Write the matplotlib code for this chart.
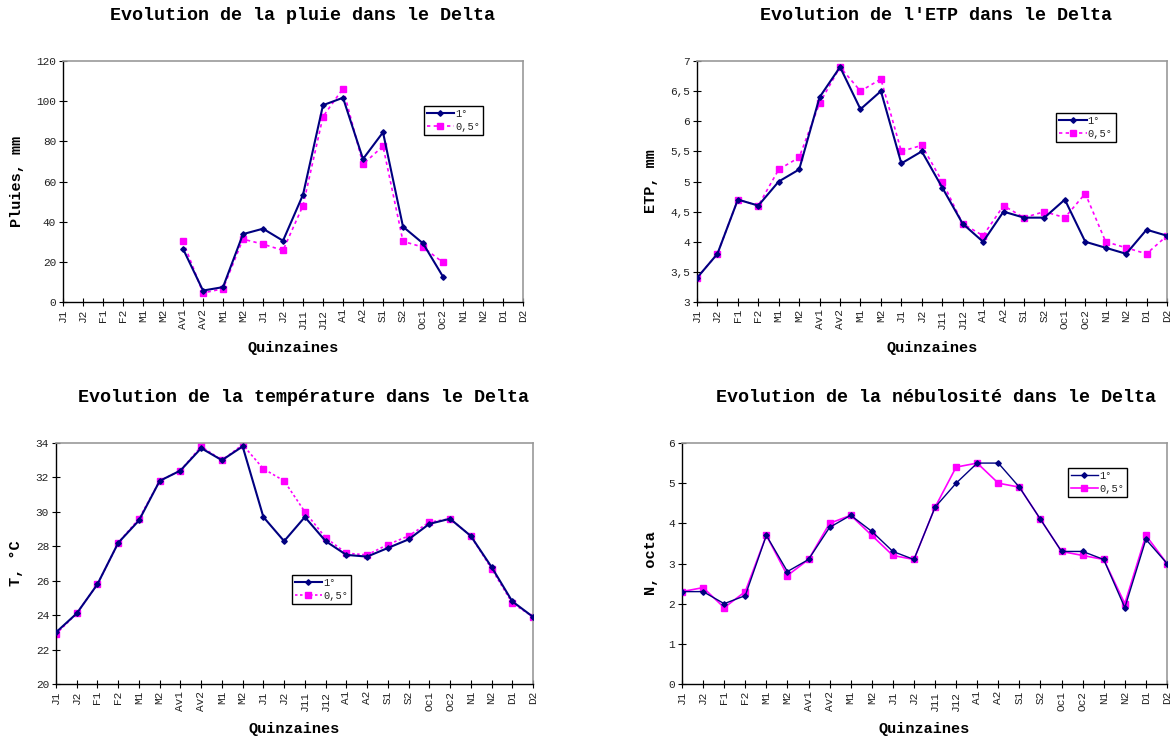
import matplotlib
matplotlib.use("Agg")
import matplotlib.pyplot as plt
import numpy as np

months = ["J1", "J2", "F1", "F2", "M1", "M2", "Av1", "Av2", "M1", "M2", "J1", "J2",
          "J11", "J12", "A1", "A2", "S1", "S2", "Oc1", "Oc2", "N1", "N2", "D1", "D2"]

nan = np.nan
pluie_1 = [nan, nan, nan, nan, nan, nan, 26.5, 5.7, 7.4, 33.8, 36.5, 30.5,
           53.4, 98.0, 101.7, 71.2, 84.5, 37.5, 29.2, 12.6, nan, nan, nan, nan]
pluie_05 = [nan, nan, nan, nan, nan, nan, 30.2, 4.5, 6.6, 31.3, 28.8, 25.7,
            48.0, 92.3, 106.3, 68.6, 77.6, 30.2, 27.3, 19.7, nan, nan, nan, nan]

etp_1 = [3.4, 3.8, 4.7, 4.6, 5.0, 5.2, 6.4, 6.9, 6.2, 6.5, 5.3, 5.5,
         4.9, 4.3, 4.0, 4.5, 4.4, 4.4, 4.7, 4.0, 3.9, 3.8, 4.2, 4.1]
etp_05 = [3.4, 3.8, 4.7, 4.6, 5.2, 5.4, 6.3, 6.9, 6.5, 6.7, 5.5, 5.6,
          5.0, 4.3, 4.1, 4.6, 4.4, 4.5, 4.4, 4.8, 4.0, 3.9, 3.8, 4.1]

temp_1 = [23.0, 24.1, 25.8, 28.2, 29.5, 31.8, 32.4, 33.7, 33.0, 33.8, 29.7, 28.3,
          29.7, 28.3, 27.5, 27.4, 27.9, 28.4, 29.3, 29.6, 28.6, 26.8, 24.8, 23.9]
temp_05 = [22.9, 24.1, 25.8, 28.2, 29.6, 31.8, 32.4, 33.8, 33.0, 33.9, 32.5, 31.8,
           30.0, 28.5, 27.6, 27.5, 28.1, 28.6, 29.4, 29.6, 28.6, 26.7, 24.7, 23.9]

neb_1 = [2.3, 2.3, 2.0, 2.2, 3.7, 2.8, 3.1, 3.9, 4.2, 3.8, 3.3, 3.1,
         4.4, 5.0, 5.5, 5.5, 4.9, 4.1, 3.3, 3.3, 3.1, 1.9, 3.6, 3.0]
neb_05 = [2.3, 2.4, 1.9, 2.3, 3.7, 2.7, 3.1, 4.0, 4.2, 3.7, 3.2, 3.1,
          4.4, 5.4, 5.5, 5.0, 4.9, 4.1, 3.3, 3.2, 3.1, 2.0, 3.7, 3.0]

legend_labels = ["1°", "0,5°"]

MONO = "Liberation Mono"
NAVY = "#000080"
MAG = "#FF00FF"
TXT = "#222222"

W, H = 1172, 737
fig = plt.figure(figsize=(W / 100, H / 100), dpi=100)


def ax_at(x0, y0, x1, y1):
    return fig.add_axes([x0 / W, 1 - y1 / H, (x1 - x0) / W, (y1 - y0) / H])


panels = [
    dict(box=(63, 61, 523, 302), s1=pluie_1, s2=pluie_05, ylim=(0, 120), yt=np.arange(0, 121, 20),
         ylabel="Pluies, mm", title="Evolution de la pluie dans le Delta", tx=303, ty=15,
         ylx=17, xly=348, ls2=(0, (2, 2)), leg=(425, 107, 482, 134), lw1=1.5,
         fmt=lambda v: f"{v:g}"),
    dict(box=(697, 61, 1167, 302), s1=etp_1, s2=etp_05, ylim=(3, 7), yt=np.arange(3, 7.01, 0.5),
         ylabel="ETP, mm", title="Evolution de l'ETP dans le Delta", tx=936, ty=15,
         ylx=651, xly=348, ls2=(0, (2, 2)), leg=(1057, 114, 1115, 141), lw1=1.5,
         fmt=lambda v: f"{v:g}".replace(".", ",")),
    dict(box=(56, 443, 533, 684), s1=temp_1, s2=temp_05, ylim=(20, 34), yt=np.arange(20, 35, 2),
         ylabel="T, °C", title="Evolution de la température dans le Delta", tx=303, ty=397,
         ylx=16, xly=729, ls2=(0, (1.5, 1.5)), leg=(293, 576, 350, 603), lw1=1.5,
         fmt=lambda v: f"{v:g}"),
    dict(box=(682, 443, 1167, 684), s1=neb_1, s2=neb_05, ylim=(0, 6), yt=np.arange(0, 7, 1),
         ylabel="N, octa", title="Evolution de la nébulosité dans le Delta", tx=936, ty=397,
         ylx=651, xly=729, ls2="-", leg=(1073, 469, 1122, 496), lw1=1.0,
         fmt=lambda v: f"{v:g}"),
]

x = np.arange(len(months))
for p in panels:
    ax = ax_at(*p["box"])
    ax.plot(x, p["s1"], color=NAVY, lw=p["lw1"], marker="D", ms=2.8, mfc=NAVY, mec=NAVY,
            label=legend_labels[0], zorder=3)
    ax.plot(x, p["s2"], color=MAG, lw=1.2, ls=p["ls2"], marker="s", ms=4, mfc=MAG, mec=MAG,
            label=legend_labels[1], zorder=2)
    ax.set_xlim(0, len(months) - 1)
    ax.set_ylim(*p["ylim"])
    ax.set_xticks(x)
    ax.set_xticklabels(months, rotation=90, fontsize=8, family=MONO, color=TXT)
    ax.set_yticks(p["yt"])
    ax.set_yticklabels([p["fmt"](v) for v in p["yt"]], fontsize=8, family=MONO, color=TXT)
    ax.tick_params(direction="inout", length=6, width=0.8, pad=2, colors="black",
                   labelcolor=TXT)
    for side in ("top", "right"):
        ax.spines[side].set_color("#999999")
        ax.spines[side].set_linewidth(1.2)
    for side in ("left", "bottom"):
        ax.spines[side].set_linewidth(1.0)
    x0, y0, x1, y1 = p["box"]
    ax.set_xlabel("Quinzaines", fontsize=11, family=MONO, fontweight="bold", va="center")
    ax.set_ylabel(p["ylabel"], fontsize=11, family=MONO, fontweight="bold", va="center")
    ax.xaxis.set_label_coords(((x0 + x1) / 2) / W, 1 - p["xly"] / H, transform=fig.transFigure)
    ax.yaxis.set_label_coords(p["ylx"] / W, 1 - ((y0 + y1) / 2) / H, transform=fig.transFigure)
    fig.text(p["tx"] / W, 1 - p["ty"] / H, p["title"], ha="center", va="center",
             fontsize=13.2, family=MONO, fontweight="bold")
    lx0, ly0, lx1, ly1 = p["leg"]
    fig_bbox = (lx0 / W, 1 - ly1 / H, (lx1 - lx0) / W, (ly1 - ly0) / H)
    leg = ax.legend(loc="center", bbox_to_anchor=fig_bbox, bbox_transform=fig.transFigure,
                    prop=dict(family=MONO, size=7.5), frameon=True, fancybox=False,
                    handlelength=2.6, handletextpad=0.1, borderpad=0.3, labelspacing=0.3,
                    borderaxespad=0)
    for t in leg.get_texts():
        t.set_color(TXT)
    fr = leg.get_frame()
    fr.set_edgecolor("black")
    fr.set_linewidth(1.0)
    fr.set_alpha(1)

fig.savefig("out.png", dpi=100)
